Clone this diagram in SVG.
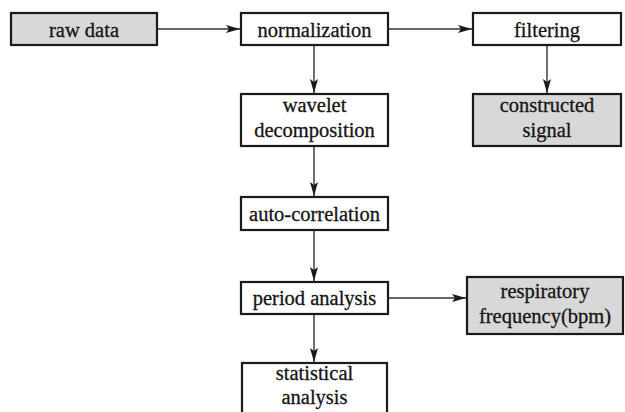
<svg xmlns="http://www.w3.org/2000/svg" width="625" height="412" viewBox="0 0 625 412">
  <style>
    .box { fill: #ffffff; stroke: #1a1a1a; stroke-width: 2.2; }
    .shaded { fill: #d8d8d8; }
    .label { font-family: 'Liberation Serif', 'Times New Roman', Times, serif; font-size: 20.5px; fill: #151515; stroke: #151515; stroke-width: 0.3; text-anchor: middle; }
    .link { stroke: #333333; stroke-width: 1.4; fill: none; marker-end: url(#arrow); }
  </style>
  <defs>
    <marker id="arrow" viewBox="0 0 14 8" refX="14" refY="4" markerWidth="14" markerHeight="8" markerUnits="userSpaceOnUse" orient="auto">
      <path d="M0,0 L14,4 L0,8 L3,4 z" fill="#1a1a1a"/>
    </marker>
  </defs>
  <rect width="625" height="412" fill="#ffffff"/>

  <!-- connectors -->
  <g id="connectors">
    <line class="link" x1="157" y1="29" x2="240" y2="29"/>
    <line class="link" x1="388" y1="29" x2="472" y2="29"/>
    <line class="link" x1="314" y1="45" x2="314" y2="93"/>
    <line class="link" x1="547" y1="45" x2="547" y2="93"/>
    <line class="link" x1="314" y1="146" x2="314" y2="196"/>
    <line class="link" x1="314" y1="230" x2="314" y2="281"/>
    <line class="link" x1="314" y1="314" x2="314" y2="362"/>
    <line class="link" x1="388" y1="298" x2="466" y2="298"/>
  </g>

  <!-- nodes -->
  <g id="raw-data">
    <rect class="box shaded" x="11" y="13" width="146" height="32"/>
    <text class="label" x="84" y="37">raw data</text>
  </g>
  <g id="normalization">
    <rect class="box" x="241" y="13" width="147" height="32"/>
    <text class="label" x="314.5" y="37">normalization</text>
  </g>
  <g id="filtering">
    <rect class="box" x="473" y="13" width="148" height="32"/>
    <text class="label" x="547" y="37">filtering</text>
  </g>
  <g id="wavelet-decomposition">
    <rect class="box" x="241" y="94" width="147" height="52"/>
    <text class="label" x="314.5" y="112">wavelet</text>
    <text class="label" x="314.5" y="137">decomposition</text>
  </g>
  <g id="constructed-signal">
    <rect class="box shaded" x="473" y="94" width="148" height="52"/>
    <text class="label" x="547" y="112">constructed</text>
    <text class="label" x="547" y="137">signal</text>
  </g>
  <g id="auto-correlation">
    <rect class="box" x="241" y="197" width="147" height="33"/>
    <text class="label" x="314.5" y="221">auto-correlation</text>
  </g>
  <g id="period-analysis">
    <rect class="box" x="241" y="282" width="147" height="32"/>
    <text class="label" x="314.5" y="305">period analysis</text>
  </g>
  <g id="respiratory-frequency">
    <rect class="box shaded" x="467" y="277" width="156" height="57"/>
    <text class="label" x="545" y="298">respiratory</text>
    <text class="label" x="545" y="323">frequency(bpm)</text>
  </g>
  <g id="statistical-analysis">
    <rect class="box" x="242" y="363" width="145" height="60"/>
    <text class="label" x="314.5" y="380">statistical</text>
    <text class="label" x="314.5" y="404">analysis</text>
  </g>
</svg>
